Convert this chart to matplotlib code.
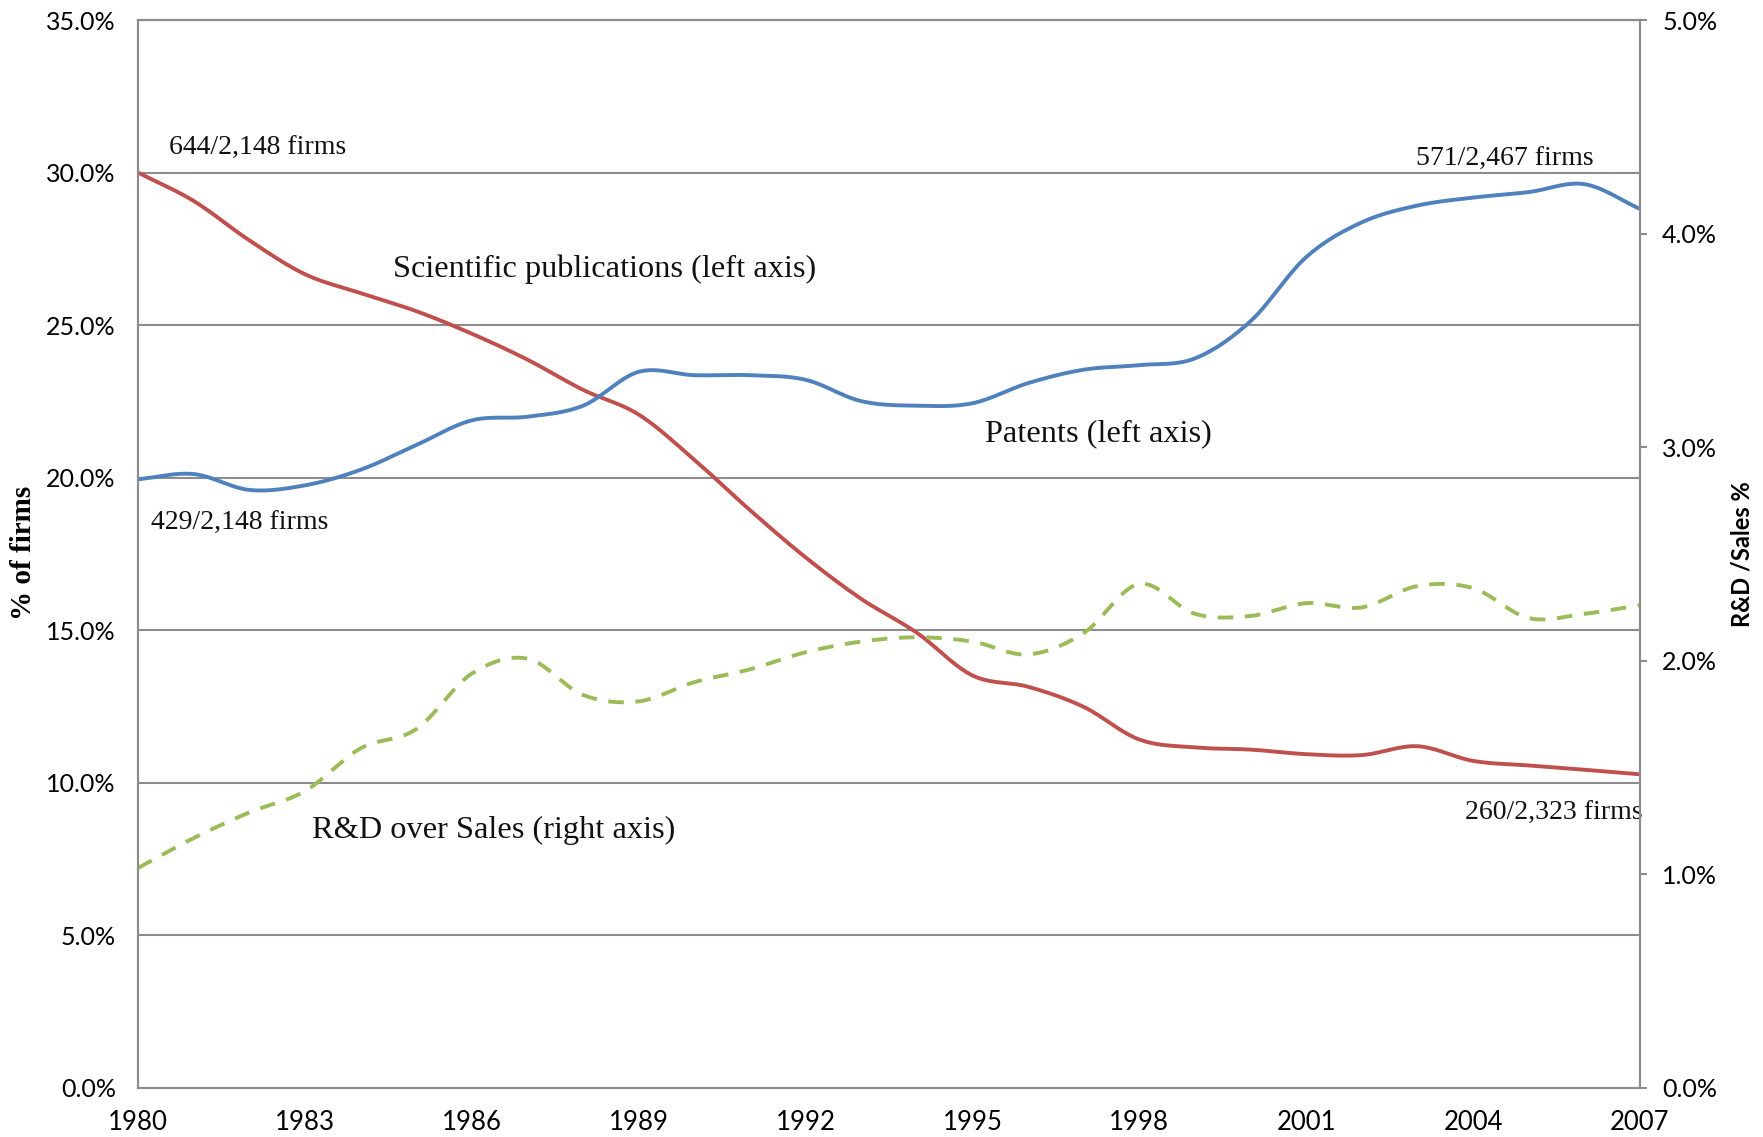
import numpy as np
import matplotlib.pyplot as plt
from matplotlib.ticker import FuncFormatter

years = list(range(1980, 2008))

# % of firms with scientific publications (left axis)
publications = [30.0, 29.07, 27.78, 26.67, 26.05, 25.46, 24.72, 23.87, 22.88, 22.07,
                20.59, 18.94, 17.39, 16.03, 14.92, 13.52, 13.15, 12.49, 11.42, 11.16,
                11.09, 10.94, 10.91, 11.2, 10.72, 10.57, 10.43, 10.28]

# % of firms with patents (left axis)
patents = [19.95, 20.12, 19.6, 19.75, 20.26, 21.07, 21.88, 22.0, 22.36, 23.47,
           23.36, 23.36, 23.21, 22.51, 22.36, 22.44, 23.1, 23.54, 23.69, 23.91,
           25.13, 27.23, 28.37, 28.92, 29.18, 29.36, 29.62, 28.81]

# R&D over sales % (right axis)
rd_sales = [1.03, 1.17, 1.29, 1.39, 1.59, 1.68, 1.94, 2.01, 1.84, 1.81,
            1.90, 1.96, 2.04, 2.09, 2.11, 2.09, 2.03, 2.13, 2.36, 2.22,
            2.21, 2.27, 2.25, 2.35, 2.34, 2.20, 2.22, 2.26]

xticks = list(range(1980, 2008, 3))

red = "#C0504D"
blue = "#4F81BD"
green = "#9BBB59"
grey = "#8C8C8C"
sans = ["Lato", "DejaVu Sans"]
serif = ["Liberation Serif", "DejaVu Serif"]


def smooth(x, y, n=20):
    # Catmull-Rom curve through the points, like Excel's "smoothed line"
    x = np.asarray(x, float)
    y = np.asarray(y, float)
    px = np.concatenate([[2 * x[0] - x[1]], x, [2 * x[-1] - x[-2]]])
    py = np.concatenate([[2 * y[0] - y[1]], y, [2 * y[-1] - y[-2]]])
    xs, ys = [], []
    t = np.linspace(0, 1, n, endpoint=False)
    for i in range(1, len(px) - 2):
        for p, out in ((px, xs), (py, ys)):
            p0, p1, p2, p3 = p[i - 1], p[i], p[i + 1], p[i + 2]
            out.extend(0.5 * (2 * p1 + (-p0 + p2) * t
                              + (2 * p0 - 5 * p1 + 4 * p2 - p3) * t ** 2
                              + (-p0 + 3 * p1 - 3 * p2 + p3) * t ** 3))
    xs.append(x[-1])
    ys.append(y[-1])
    return np.array(xs), np.array(ys)


fig = plt.figure(figsize=(17.63, 11.37), dpi=100)
ax = fig.add_axes([0.0783, 0.0431, 0.8519, 0.9393])
ax2 = ax.twinx()

ax.set_xlim(1980, 2007)
ax.set_ylim(0, 35)
ax.set_yticks(np.arange(0, 35.1, 5))
ax.yaxis.set_major_formatter(FuncFormatter(lambda v, p: f"{v:.1f}%"))
ax.set_xticks(xticks)
ax.grid(axis="y", color=grey, linewidth=1.5)
ax.set_axisbelow(True)
ax.tick_params(axis="y", length=0, pad=16, labelsize=18)
ax.tick_params(axis="x", length=0, pad=16, labelsize=18.5)
for lab in ax.get_xticklabels() + ax.get_yticklabels():
    lab.set_fontfamily(sans)

ax2.set_ylim(0, 5)
ax2.set_yticks(np.arange(0, 5.1, 1))
ax2.yaxis.set_major_formatter(FuncFormatter(lambda v, p: f"{v:.1f}%"))
ax2.tick_params(axis="y", direction="out", length=5, width=1.5, color=grey, pad=11, labelsize=18)
for lab in ax2.get_yticklabels():
    lab.set_fontfamily(sans)

for a in (ax, ax2):
    for side in a.spines:
        a.spines[side].set_color(grey)
        a.spines[side].set_linewidth(1.5)

sx, sy = smooth(years, publications)
ax.plot(sx, sy, color=red, linewidth=2.8, solid_capstyle="round")
sx, sy = smooth(years, patents)
ax.plot(sx, sy, color=blue, linewidth=2.8, solid_capstyle="round")
sx, sy = smooth(years, rd_sales)
ax2.plot(sx, sy, color=green, linewidth=2.8, linestyle=(0, (4, 3)))

fig.text(24 / 1763, 1 - 553 / 1137, "% of firms", rotation=90, ha="center", va="center",
         fontfamily=serif, fontweight="bold", fontsize=21)
fig.text(1742 / 1763, 1 - 554 / 1137, "R&D /Sales %", rotation=90, ha="center", va="center",
         fontfamily=sans, fontweight="bold", fontsize=17)

num = dict(fontfamily=serif, fontsize=20, va="center", color="#111111")
lbl = dict(fontfamily=serif, fontsize=23.3, va="center", color="#111111")
ax.text(1980.55, 30.8, "644/2,148 firms", ha="left", **num)
ax.text(1984.59, 26.82, "Scientific publications (left axis)", ha="left", **lbl)
ax.text(1995.23, 21.44, "Patents (left axis)", ha="left", **lbl)
ax.text(2006.17, 30.43, "571/2,467 firms", ha="right", **num)
ax.text(1980.24, 18.49, "429/2,148 firms", ha="left", **num)
ax.text(1983.13, 8.44, "R&D over Sales (right axis)", ha="left", **lbl)
ax.text(2007.05, 8.99, "260/2,323 firms", ha="right", **num)

fig.savefig("out.png", dpi=100)
